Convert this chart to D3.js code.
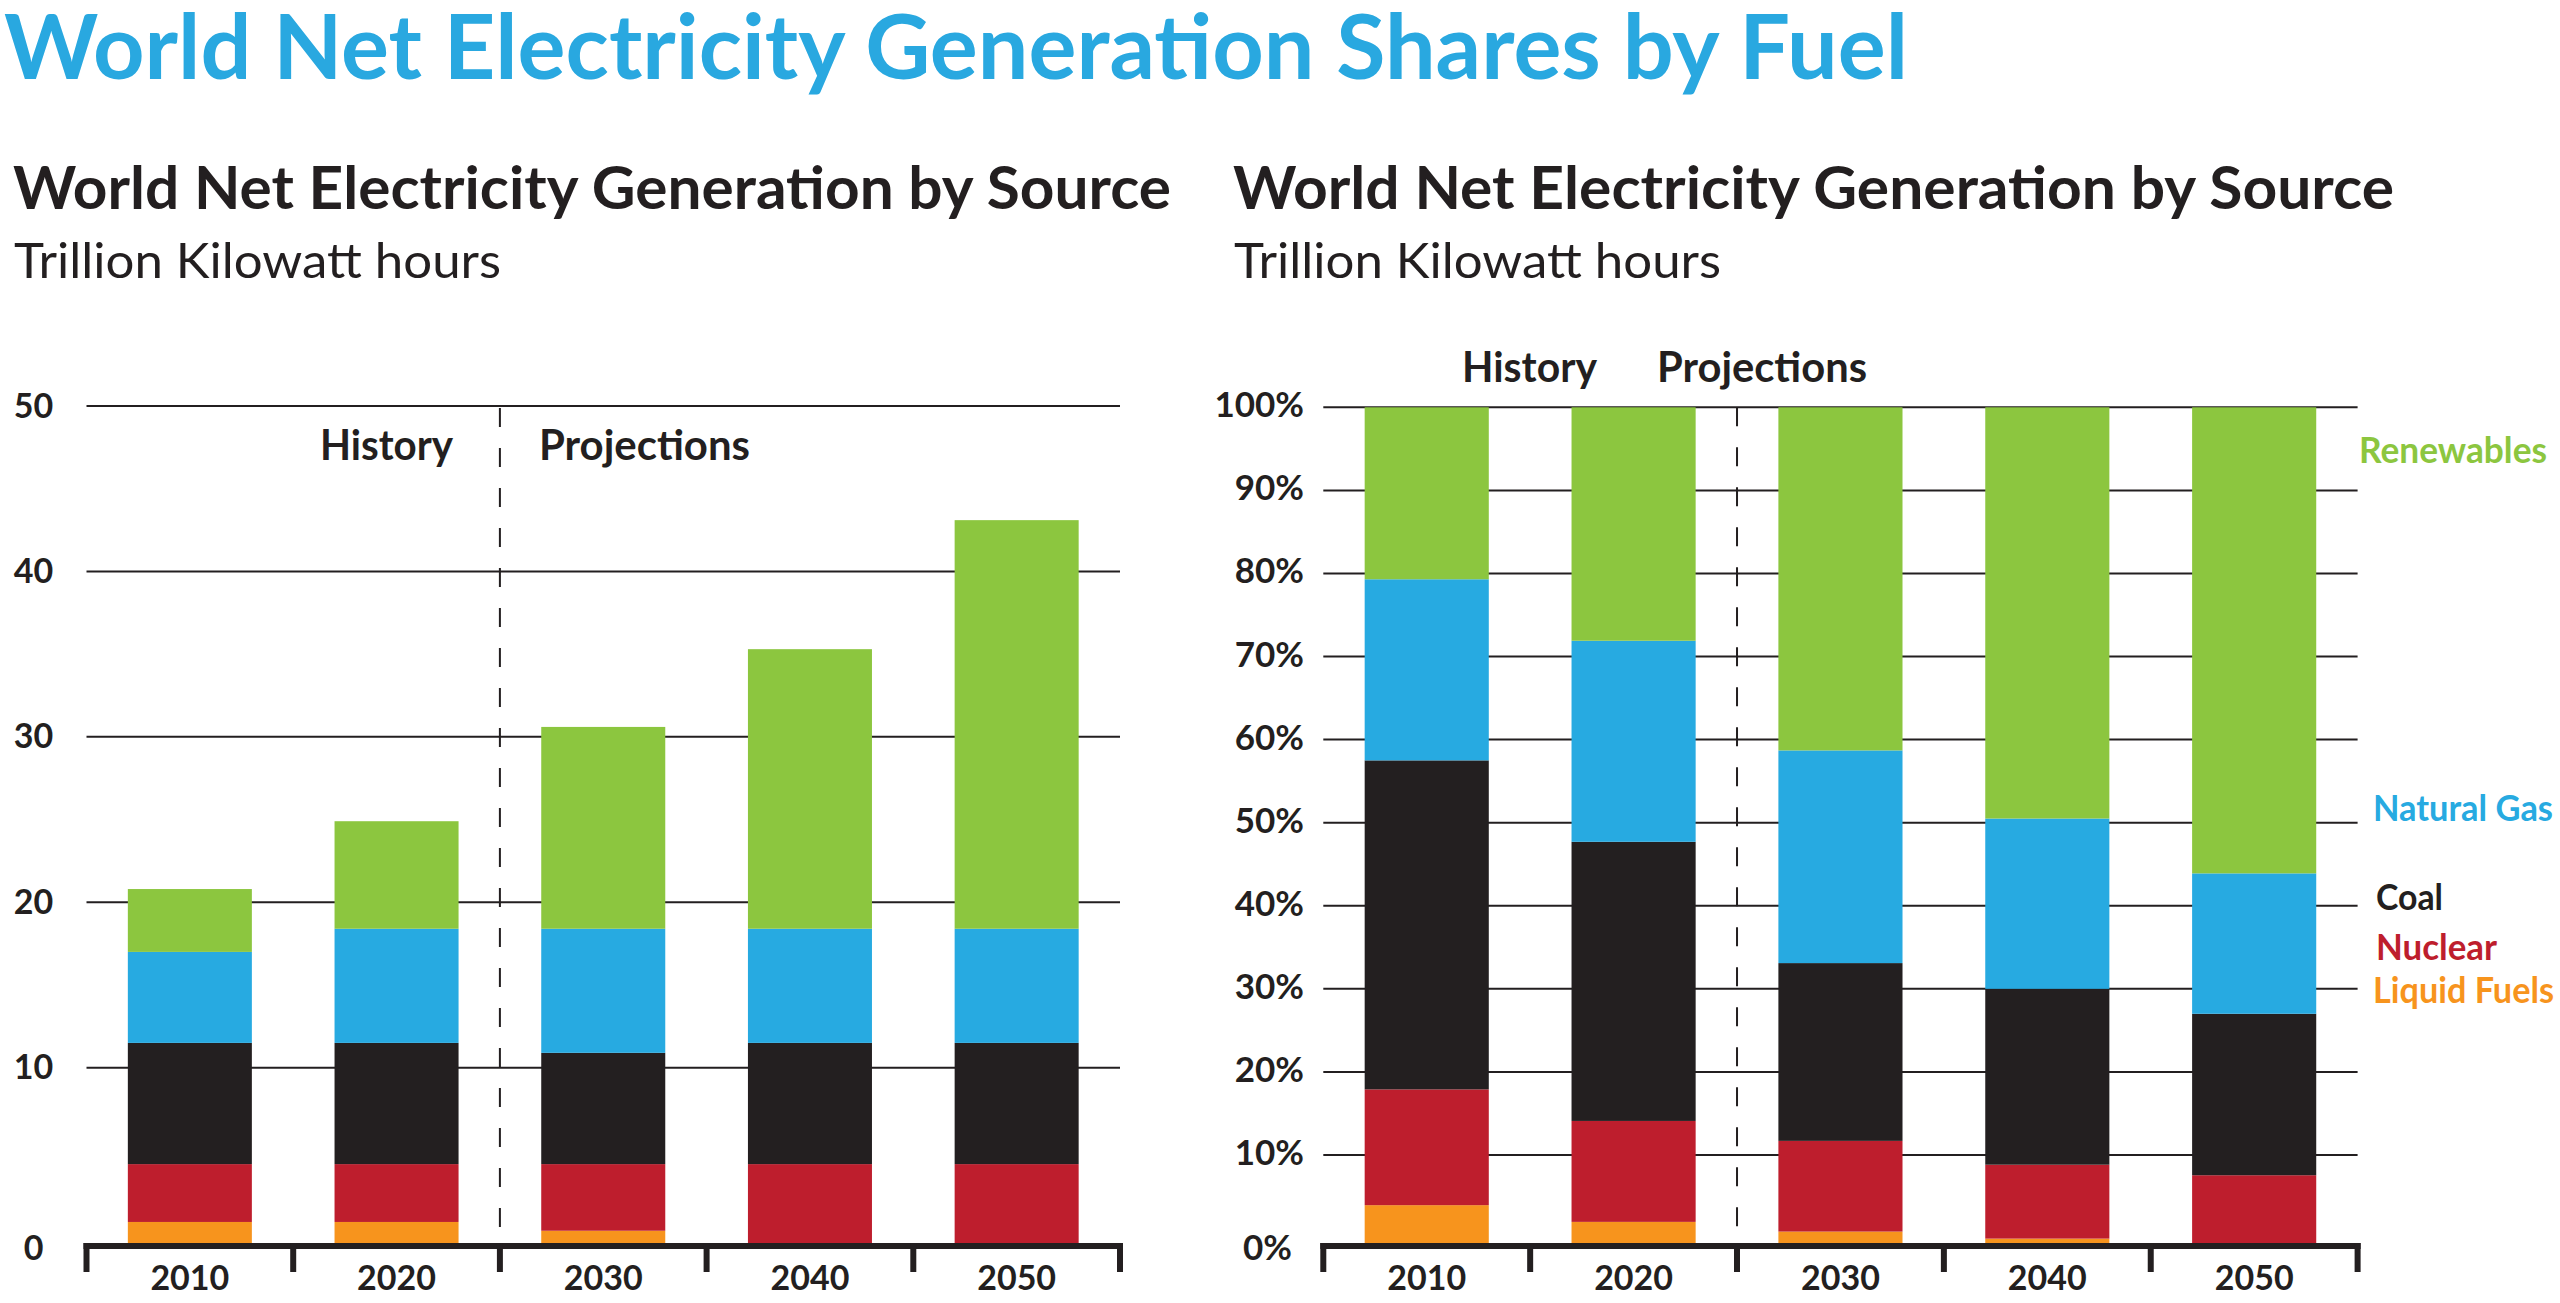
<!DOCTYPE html>
<html><head><meta charset="utf-8">
<script src="https://cdn.jsdelivr.net/npm/d3@7"></script>
<style>
body{margin:0;background:#fff}
svg{display:block}
text{font-family:Lato,'Open Sans',sans-serif}
</style>
</head><body>
<svg id="chart" width="2560" height="1303"></svg>
<script>
// ---------------- DATA ----------------
const years = ["2010", "2020", "2030", "2040", "2050"];
const fuels = ["Liquid Fuels", "Nuclear", "Coal", "Natural Gas", "Renewables"];
const fuelColors = ["#f7941d", "#be1e2d", "#231f20", "#27aae1", "#8cc63f"];

// Left chart: trillion kilowatt hours
const liquidTkwh  = [1.2, 1.2, 0.7, 0.0, 0.0];
const nuclearTkwh = [3.3, 3.3, 3.8, 4.5, 4.5];
const coalTkwh    = [7.0, 7.0, 6.4, 7.0, 7.0];
const gasTkwh     = [5.5, 6.9, 7.5, 6.9, 6.9];
const renewTkwh   = [3.8, 6.5, 12.2, 16.9, 24.7];

// Right chart: shares in percent
const liquidPct  = [4.3, 2.4, 1.3, 0.5, 0.0];
const nuclearPct = [13.6, 11.7, 10.4, 8.4, 7.7];
const coalPct    = [39.6, 33.6, 21.4, 21.1, 19.3];
const gasPct     = [21.8, 24.2, 25.6, 20.5, 16.9];
const renewPct   = [20.7, 28.1, 41.3, 49.5, 56.1];

const leftTicks = [0, 10, 20, 30, 40, 50];
const leftTickLabels = ["0", "10", "20", "30", "40", "50"];
const rightTicks = [0, 10, 20, 30, 40, 50, 60, 70, 80, 90, 100];
const rightTickLabels = ["0%", "10%", "20%", "30%", "40%", "50%", "60%", "70%", "80%", "90%", "100%"];

const titleText = "World Net Electricity Generation Shares by Fuel";
const subTitleText = "World Net Electricity Generation by Source";
const unitText = "Trillion Kilowatt hours";
const periodLabels = ["History", "Projections"];

// ---------------- DRAW ----------------
const INK = "#231f20";
const svg = d3.select("#chart");
svg.append("rect").attr("width", 2560).attr("height", 1303).attr("fill", "#fff");

function fitText(sel, w) {
  sel.attr("textLength", w).attr("lengthAdjust", "spacingAndGlyphs");
  return sel;
}
function addText(x, y, str, size, weight, color, w, anchor) {
  const t = svg.append("text").attr("x", x).attr("y", y).text(str)
    .attr("font-size", size).attr("font-weight", weight).attr("fill", color)
    .attr("text-anchor", anchor || "start");
  if (w) fitText(t, w);
  return t;
}

function buildRows(arrs) {
  return years.map((yr, i) => {
    const r = { year: yr };
    fuels.forEach((f, k) => r[f] = arrs[k][i]);
    return r;
  });
}

function drawPanel(cfg) {
  const g = svg.append("g");
  const x = d3.scaleBand().domain(years).range(cfg.xRange).paddingInner(0.4).paddingOuter(0.2);
  const y = d3.scaleLinear().domain(cfg.yDomain).range(cfg.yRange);
  const x0 = cfg.xRange[0], x1 = cfg.xRange[1];
  const y0 = y(0);

  // gridlines
  g.selectAll(".grid").data(cfg.ticks.filter(t => t !== 0)).join("line")
    .attr("x1", x0).attr("x2", x1).attr("y1", d => y(d)).attr("y2", d => y(d))
    .attr("stroke", INK).attr("stroke-width", 2);

  // dashed divider between history and projections
  const step = x.step();
  const boundaries = d3.range(years.length + 1).map(i => x0 + i * step);
  const yTop = y(cfg.ticks[cfg.ticks.length - 1]);
  g.append("line")
    .attr("x1", boundaries[2]).attr("x2", boundaries[2])
    .attr("y1", yTop + cfg.dashStart).attr("y2", y0)
    .attr("stroke", INK).attr("stroke-width", 2).attr("stroke-dasharray", "19 21");

  // stacked bars
  const series = d3.stack().keys(fuels)(buildRows(cfg.values));
  series.forEach((s, k) => {
    g.selectAll(null).data(s.filter(d => d[1] - d[0] > 0)).join("rect")
      .attr("x", d => x(d.data.year))
      .attr("width", x.bandwidth())
      .attr("y", d => y(d[1]))
      .attr("height", d => y(d[0]) - y(d[1]))
      .attr("fill", fuelColors[k]);
  });

  // bottom axis with bracket ticks at band boundaries
  g.append("line").attr("x1", x0 - 3).attr("x2", x1 + 3)
    .attr("y1", y0 + 3).attr("y2", y0 + 3)
    .attr("stroke", INK).attr("stroke-width", 6);
  g.selectAll(null).data(boundaries).join("line")
    .attr("x1", d => d).attr("x2", d => d)
    .attr("y1", y0).attr("y2", y0 + 29)
    .attr("stroke", INK).attr("stroke-width", 6);

  // category labels
  g.selectAll(null).data(years).join("text")
    .attr("x", d => x(d) + x.bandwidth() / 2).attr("y", y0 + 47)
    .attr("text-anchor", "middle").attr("font-size", 34).attr("font-weight", 700)
    .attr("fill", INK).text(d => d);

  // value labels
  g.selectAll(null).data(cfg.ticks).join("text")
    .attr("x", d => d === 0 ? cfg.labelX + cfg.zeroDx : cfg.labelX)
    .attr("y", d => d === 0 ? y0 + 17 : y(d) + cfg.labelDy)
    .attr("text-anchor", cfg.labelAnchor)
    .attr("font-size", cfg.labelSize).attr("font-weight", 700).attr("fill", INK)
    .text((d, i) => cfg.tickLabels[i]);
}

// title
addText(4, 79, titleText, 90, 700, "#29a8e0", 1904);

// subtitles
addText(13, 209, subTitleText, 60, 700, INK, 1158);
addText(14, 278, unitText, 48, 400, INK, 487);
addText(1233, 209, subTitleText, 60, 700, INK, 1161);
addText(1234, 278, unitText, 48, 400, INK, 487);

// left panel
drawPanel({
  xRange: [86.5, 1120],
  yDomain: [0, 10, 50], yRange: [1243, 1067.7, 406],
  ticks: leftTicks, tickLabels: leftTickLabels,
  values: [liquidTkwh, nuclearTkwh, coalTkwh, gasTkwh, renewTkwh],
  labelX: 33.5, labelAnchor: "middle", labelDy: 11.5, zeroDx: 0, labelSize: 34,
  dashStart: 2
});
addText(320, 460, periodLabels[0], 42, 700, INK, 133);
addText(539, 460, periodLabels[1], 42, 700, INK, 211);

// right panel
drawPanel({
  xRange: [1323.3, 2357.6],
  yDomain: [0, 10, 100], yRange: [1243, 1155, 407.3],
  ticks: rightTicks, tickLabels: rightTickLabels,
  values: [liquidPct, nuclearPct, coalPct, gasPct, renewPct],
  labelX: 1304, labelAnchor: "end", labelDy: 10, zeroDx: -12, labelSize: 35,
  dashStart: 0
});
addText(1462, 382, periodLabels[0], 42, 700, INK, 135);
addText(1657, 382, periodLabels[1], 42, 700, INK, 210);

// right-side series labels (right-anchored ones end near the page edge)
const legendPos = [
  { x: 2554, y: 1003, w: 181, a: "end" },
  { x: 2376, y: 959.5, w: 121, a: "start" },
  { x: 2376, y: 910, w: 67, a: "start" },
  { x: 2553, y: 821, w: 180, a: "end" },
  { x: 2359, y: 463, w: 188, a: "start" }
];
fuels.forEach((f, k) => addText(legendPos[k].x, legendPos[k].y, f, 36, 700, fuelColors[k], legendPos[k].w, legendPos[k].a));
</script>
</body></html>
